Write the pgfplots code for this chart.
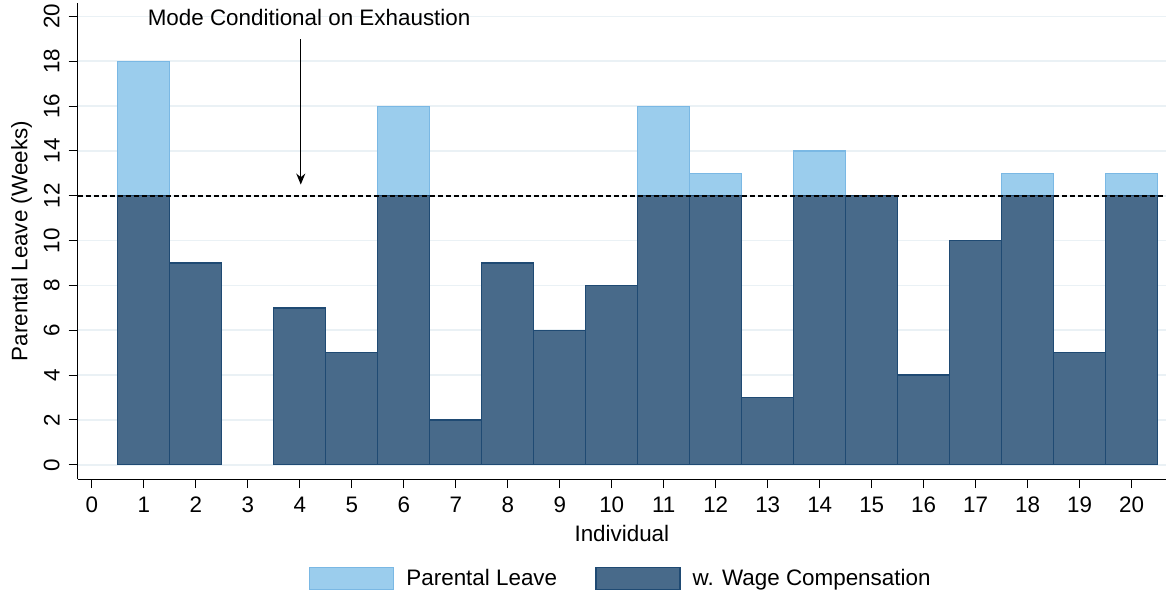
\documentclass[border=0pt]{standalone}
\usepackage{fontspec}
\setmainfont{Liberation Sans}
\usepackage{pgfplots}
\pgfplotsset{compat=1.18}
\usetikzlibrary{arrows.meta}
\definecolor{leavefill}{RGB}{155,205,237}
\definecolor{leaveedge}{RGB}{122,184,228}
\definecolor{wagefill}{RGB}{72,106,138}
\definecolor{wageedge}{RGB}{31,74,115}
\definecolor{gridc}{RGB}{234,241,245}

\begin{document}
\begin{tikzpicture}
\begin{axis}[
    scale only axis,
    width=544pt, height=238pt,
    xmin=-0.27, xmax=20.66,
    ymin=-0.64, ymax=20.6,
    axis x line*=bottom, axis y line*=left,
    xtick={0,...,20}, ytick={0,2,...,20},
    tick align=outside, major tick length=4.5pt,
    tick style={black, line width=0.5pt},
    axis line style={line width=0.6pt},
    ymajorgrids, grid style={gridc, line width=0.8pt},
    yticklabel style={rotate=90, anchor=south, yshift=1pt},
    xticklabel style={yshift=-1pt},
    /pgf/number format/assume math mode=true,
    font=\fontsize{11.2}{13}\selectfont,
    xlabel={Individual}, ylabel={Parental Leave (Weeks)},
    xlabel style={yshift=1pt},
    ylabel style={yshift=-1pt},
    legend columns=2,
    legend style={at={(axis description cs:0.5,-0.2086)}, anchor=center, draw=none,
        /tikz/every even column/.append style={column sep=17pt}},
    legend cell align=left,
    legend image code/.code={\draw[#1] (0pt,-5.5pt) rectangle (42pt,5.5pt); \path (46pt,0pt);},
    clip=false,
]
\addplot[ybar, bar width=1, bar shift=0pt, fill=leavefill, draw=leaveedge, line width=0.6pt]
  coordinates {(1,18) (2,9) (4,7) (5,5) (6,16) (7,2) (8,9) (9,6) (10,8) (11,16)
               (12,13) (13,3) (14,14) (15,12) (16,4) (17,10) (18,13) (19,5) (20,13)};
\addlegendentry{Parental Leave}
\addplot[ybar, bar width=1, bar shift=0pt, fill=wagefill, draw=wageedge, line width=0.7pt]
  coordinates {(1,12) (2,9) (4,7) (5,5) (6,12) (7,2) (8,9) (9,6) (10,8) (11,12)
               (12,12) (13,3) (14,12) (15,12) (16,4) (17,10) (18,12) (19,5) (20,12)};
\addlegendentry{w. Wage Compensation}
\addplot[black, line width=0.9pt, dash pattern=on 2.4pt off 1.6pt, forget plot]
  coordinates {(-0.27,12) (20.66,12)};
\draw[-{Stealth[length=5.5pt,width=4.5pt]}, line width=0.6pt] (axis cs:4.02,18.98) -- (axis cs:4.02,12.5);
\node[anchor=west, inner sep=0pt] at (axis cs:1.07,19.95) {Mode Conditional on Exhaustion};
\coordinate (sw) at (rel axis cs:0,0);
\coordinate (ne) at (rel axis cs:1,1);
\end{axis}
\pgfresetboundingbox
\path[use as bounding box] ([shift={(-38.85pt,-57.65pt)}]sw) rectangle ([shift={(0pt,1.5pt)}]ne);
\end{tikzpicture}
\end{document}
